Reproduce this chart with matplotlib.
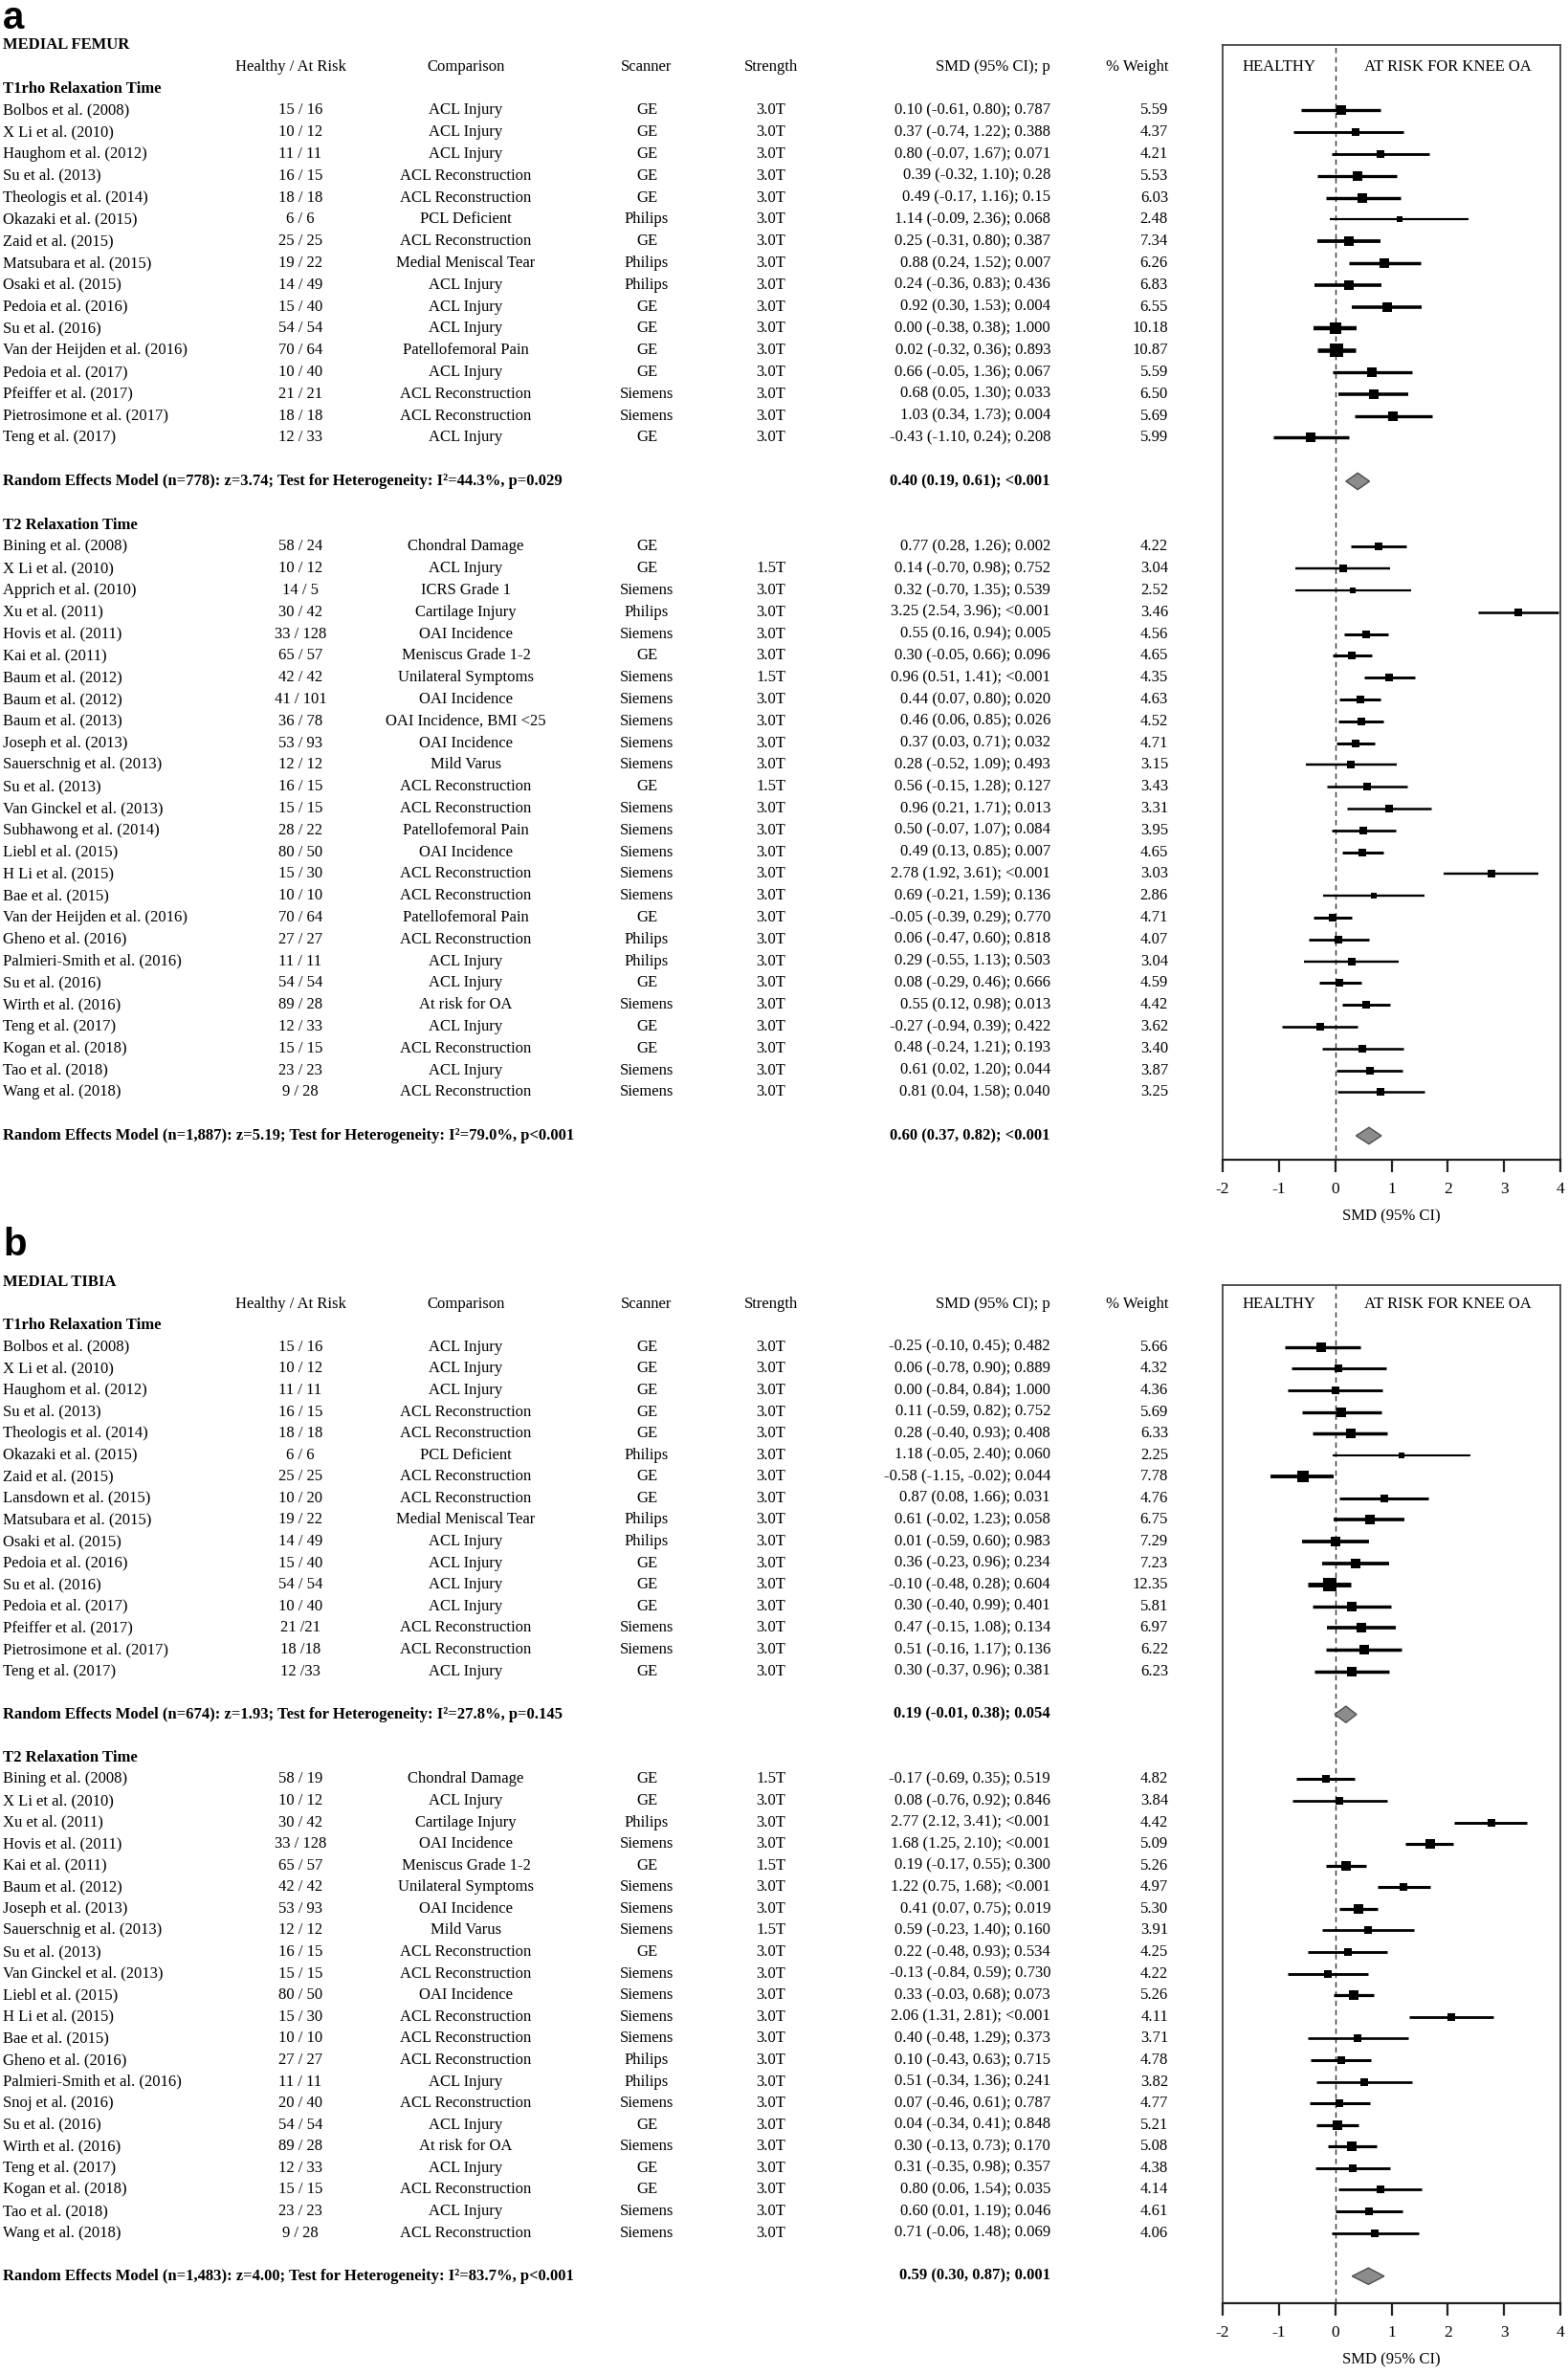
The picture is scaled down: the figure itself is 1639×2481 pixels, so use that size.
import numpy as np
import matplotlib
matplotlib.use('Agg')
import matplotlib.pyplot as plt
from matplotlib import transforms
from matplotlib.patches import Polygon

plt.rcParams['font.family'] = ['Liberation Serif', 'DejaVu Serif']
plt.rcParams['axes.unicode_minus'] = False

W, H = 1639, 2481

# ---------------- a) medial femur, T1rho ----------------
fem_t1_study = ['Bolbos et al. (2008)', 'X Li et al. (2010)', 'Haughom et al. (2012)', 'Su et al. (2013)',
                'Theologis et al. (2014)', 'Okazaki et al. (2015)', 'Zaid et al. (2015)', 'Matsubara et al. (2015)',
                'Osaki et al. (2015)', 'Pedoia et al. (2016)', 'Su et al. (2016)', 'Van der Heijden et al. (2016)',
                'Pedoia et al. (2017)', 'Pfeiffer et al. (2017)', 'Pietrosimone et al. (2017)', 'Teng et al. (2017)']
fem_t1_n = ['15 / 16', '10 / 12', '11 / 11', '16 / 15', '18 / 18', '6 / 6', '25 / 25', '19 / 22',
            '14 / 49', '15 / 40', '54 / 54', '70 / 64', '10 / 40', '21 / 21', '18 / 18', '12 / 33']
fem_t1_comp = ['ACL Injury', 'ACL Injury', 'ACL Injury', 'ACL Reconstruction', 'ACL Reconstruction', 'PCL Deficient',
               'ACL Reconstruction', 'Medial Meniscal Tear', 'ACL Injury', 'ACL Injury', 'ACL Injury',
               'Patellofemoral Pain', 'ACL Injury', 'ACL Reconstruction', 'ACL Reconstruction', 'ACL Injury']
fem_t1_scan = ['GE', 'GE', 'GE', 'GE', 'GE', 'Philips', 'GE', 'Philips', 'Philips', 'GE', 'GE', 'GE', 'GE',
               'Siemens', 'Siemens', 'GE']
fem_t1_tesla = ['3.0T'] * 16
fem_t1_smd = [0.10, 0.37, 0.80, 0.39, 0.49, 1.14, 0.25, 0.88, 0.24, 0.92, 0.00, 0.02, 0.66, 0.68, 1.03, -0.43]
fem_t1_lo = [-0.61, -0.74, -0.07, -0.32, -0.17, -0.09, -0.31, 0.24, -0.36, 0.30, -0.38, -0.32, -0.05, 0.05, 0.34, -1.10]
fem_t1_hi = [0.80, 1.22, 1.67, 1.10, 1.16, 2.36, 0.80, 1.52, 0.83, 1.53, 0.38, 0.36, 1.36, 1.30, 1.73, 0.24]
fem_t1_p = ['0.787', '0.388', '0.071', '0.28', '0.15', '0.068', '0.387', '0.007', '0.436', '0.004', '1.000',
            '0.893', '0.067', '0.033', '0.004', '0.208']
fem_t1_wt = [5.59, 4.37, 4.21, 5.53, 6.03, 2.48, 7.34, 6.26, 6.83, 6.55, 10.18, 10.87, 5.59, 6.50, 5.69, 5.99]
fem_t1_re = 'Random Effects Model (n=778): z=3.74; Test for Heterogeneity: I\u00b2=44.3%, p=0.029'
fem_t1_pool = [0.40, 0.19, 0.61]
fem_t1_pool_p = '<0.001'

# ---------------- a) medial femur, T2 ----------------
fem_t2_study = ['Bining et al. (2008)', 'X Li et al. (2010)', 'Apprich et al. (2010)', 'Xu et al. (2011)',
                'Hovis et al. (2011)', 'Kai et al. (2011)', 'Baum et al. (2012)', 'Baum et al. (2012)',
                'Baum et al. (2013)', 'Joseph et al. (2013)', 'Sauerschnig et al. (2013)', 'Su et al. (2013)',
                'Van Ginckel et al. (2013)', 'Subhawong et al. (2014)', 'Liebl et al. (2015)', 'H Li et al. (2015)',
                'Bae et al. (2015)', 'Van der Heijden et al. (2016)', 'Gheno et al. (2016)',
                'Palmieri-Smith et al. (2016)', 'Su et al. (2016)', 'Wirth et al. (2016)', 'Teng et al. (2017)',
                'Kogan et al. (2018)', 'Tao et al. (2018)', 'Wang et al. (2018)']
fem_t2_n = ['58 / 24', '10 / 12', '14 / 5', '30 / 42', '33 / 128', '65 / 57', '42 / 42', '41 / 101', '36 / 78',
            '53 / 93', '12 / 12', '16 / 15', '15 / 15', '28 / 22', '80 / 50', '15 / 30', '10 / 10', '70 / 64',
            '27 / 27', '11 / 11', '54 / 54', '89 / 28', '12 / 33', '15 / 15', '23 / 23', '9 / 28']
fem_t2_comp = ['Chondral Damage', 'ACL Injury', 'ICRS Grade 1', 'Cartilage Injury', 'OAI Incidence',
               'Meniscus Grade 1-2', 'Unilateral Symptoms', 'OAI Incidence', 'OAI Incidence, BMI <25',
               'OAI Incidence', 'Mild Varus', 'ACL Reconstruction', 'ACL Reconstruction', 'Patellofemoral Pain',
               'OAI Incidence', 'ACL Reconstruction', 'ACL Reconstruction', 'Patellofemoral Pain',
               'ACL Reconstruction', 'ACL Injury', 'ACL Injury', 'At risk for OA', 'ACL Injury',
               'ACL Reconstruction', 'ACL Injury', 'ACL Reconstruction']
fem_t2_scan = ['GE', 'GE', 'Siemens', 'Philips', 'Siemens', 'GE', 'Siemens', 'Siemens', 'Siemens', 'Siemens',
               'Siemens', 'GE', 'Siemens', 'Siemens', 'Siemens', 'Siemens', 'Siemens', 'GE', 'Philips', 'Philips',
               'GE', 'Siemens', 'GE', 'GE', 'Siemens', 'Siemens']
fem_t2_tesla = ['', '1.5T', '3.0T', '3.0T', '3.0T', '3.0T', '1.5T', '3.0T', '3.0T', '3.0T', '3.0T', '1.5T', '3.0T',
                '3.0T', '3.0T', '3.0T', '3.0T', '3.0T', '3.0T', '3.0T', '3.0T', '3.0T', '3.0T', '3.0T', '3.0T', '3.0T']
fem_t2_smd = [0.77, 0.14, 0.32, 3.25, 0.55, 0.30, 0.96, 0.44, 0.46, 0.37, 0.28, 0.56, 0.96, 0.50, 0.49, 2.78,
              0.69, -0.05, 0.06, 0.29, 0.08, 0.55, -0.27, 0.48, 0.61, 0.81]
fem_t2_lo = [0.28, -0.70, -0.70, 2.54, 0.16, -0.05, 0.51, 0.07, 0.06, 0.03, -0.52, -0.15, 0.21, -0.07, 0.13, 1.92,
             -0.21, -0.39, -0.47, -0.55, -0.29, 0.12, -0.94, -0.24, 0.02, 0.04]
fem_t2_hi = [1.26, 0.98, 1.35, 3.96, 0.94, 0.66, 1.41, 0.80, 0.85, 0.71, 1.09, 1.28, 1.71, 1.07, 0.85, 3.61,
             1.59, 0.29, 0.60, 1.13, 0.46, 0.98, 0.39, 1.21, 1.20, 1.58]
fem_t2_p = ['0.002', '0.752', '0.539', '<0.001', '0.005', '0.096', '<0.001', '0.020', '0.026', '0.032', '0.493',
            '0.127', '0.013', '0.084', '0.007', '<0.001', '0.136', '0.770', '0.818', '0.503', '0.666', '0.013',
            '0.422', '0.193', '0.044', '0.040']
fem_t2_wt = [4.22, 3.04, 2.52, 3.46, 4.56, 4.65, 4.35, 4.63, 4.52, 4.71, 3.15, 3.43, 3.31, 3.95, 4.65, 3.03,
             2.86, 4.71, 4.07, 3.04, 4.59, 4.42, 3.62, 3.40, 3.87, 3.25]
fem_t2_re = 'Random Effects Model (n=1,887): z=5.19; Test for Heterogeneity: I\u00b2=79.0%, p<0.001'
fem_t2_pool = [0.60, 0.37, 0.82]
fem_t2_pool_p = '<0.001'

# ---------------- b) medial tibia, T1rho ----------------
tib_t1_study = ['Bolbos et al. (2008)', 'X Li et al. (2010)', 'Haughom et al. (2012)', 'Su et al. (2013)',
                'Theologis et al. (2014)', 'Okazaki et al. (2015)', 'Zaid et al. (2015)', 'Lansdown et al. (2015)',
                'Matsubara et al. (2015)', 'Osaki et al. (2015)', 'Pedoia et al. (2016)', 'Su et al. (2016)',
                'Pedoia et al. (2017)', 'Pfeiffer et al. (2017)', 'Pietrosimone et al. (2017)', 'Teng et al. (2017)']
tib_t1_n = ['15 / 16', '10 / 12', '11 / 11', '16 / 15', '18 / 18', '6 / 6', '25 / 25', '10 / 20', '19 / 22',
            '14 / 49', '15 / 40', '54 / 54', '10 / 40', '21 /21', '18 /18', '12 /33']
tib_t1_comp = ['ACL Injury', 'ACL Injury', 'ACL Injury', 'ACL Reconstruction', 'ACL Reconstruction', 'PCL Deficient',
               'ACL Reconstruction', 'ACL Reconstruction', 'Medial Meniscal Tear', 'ACL Injury', 'ACL Injury',
               'ACL Injury', 'ACL Injury', 'ACL Reconstruction', 'ACL Reconstruction', 'ACL Injury']
tib_t1_scan = ['GE', 'GE', 'GE', 'GE', 'GE', 'Philips', 'GE', 'GE', 'Philips', 'Philips', 'GE', 'GE', 'GE',
               'Siemens', 'Siemens', 'GE']
tib_t1_tesla = ['3.0T'] * 16
tib_t1_smd = [-0.25, 0.06, 0.00, 0.11, 0.28, 1.18, -0.58, 0.87, 0.61, 0.01, 0.36, -0.10, 0.30, 0.47, 0.51, 0.30]
tib_t1_lo = [-0.10, -0.78, -0.84, -0.59, -0.40, -0.05, -1.15, 0.08, -0.02, -0.59, -0.23, -0.48, -0.40, -0.15,
             -0.16, -0.37]
tib_t1_hi = [0.45, 0.90, 0.84, 0.82, 0.93, 2.40, -0.02, 1.66, 1.23, 0.60, 0.96, 0.28, 0.99, 1.08, 1.17, 0.96]
# the drawn whisker of Bolbos starts near -0.9 (table prints -0.10)
tib_t1_lo_drawn = [-0.90] + tib_t1_lo[1:]
tib_t1_p = ['0.482', '0.889', '1.000', '0.752', '0.408', '0.060', '0.044', '0.031', '0.058', '0.983', '0.234',
            '0.604', '0.401', '0.134', '0.136', '0.381']
tib_t1_wt = [5.66, 4.32, 4.36, 5.69, 6.33, 2.25, 7.78, 4.76, 6.75, 7.29, 7.23, 12.35, 5.81, 6.97, 6.22, 6.23]
tib_t1_re = 'Random Effects Model (n=674): z=1.93; Test for Heterogeneity: I\u00b2=27.8%, p=0.145'
tib_t1_pool = [0.19, -0.01, 0.38]
tib_t1_pool_p = '0.054'

# ---------------- b) medial tibia, T2 ----------------
tib_t2_study = ['Bining et al. (2008)', 'X Li et al. (2010)', 'Xu et al. (2011)', 'Hovis et al. (2011)',
                'Kai et al. (2011)', 'Baum et al. (2012)', 'Joseph et al. (2013)', 'Sauerschnig et al. (2013)',
                'Su et al. (2013)', 'Van Ginckel et al. (2013)', 'Liebl et al. (2015)', 'H Li et al. (2015)',
                'Bae et al. (2015)', 'Gheno et al. (2016)', 'Palmieri-Smith et al. (2016)', 'Snoj et al. (2016)',
                'Su et al. (2016)', 'Wirth et al. (2016)', 'Teng et al. (2017)', 'Kogan et al. (2018)',
                'Tao et al. (2018)', 'Wang et al. (2018)']
tib_t2_n = ['58 / 19', '10 / 12', '30 / 42', '33 / 128', '65 / 57', '42 / 42', '53 / 93', '12 / 12', '16 / 15',
            '15 / 15', '80 / 50', '15 / 30', '10 / 10', '27 / 27', '11 / 11', '20 / 40', '54 / 54', '89 / 28',
            '12 / 33', '15 / 15', '23 / 23', '9 / 28']
tib_t2_comp = ['Chondral Damage', 'ACL Injury', 'Cartilage Injury', 'OAI Incidence', 'Meniscus Grade 1-2',
               'Unilateral Symptoms', 'OAI Incidence', 'Mild Varus', 'ACL Reconstruction', 'ACL Reconstruction',
               'OAI Incidence', 'ACL Reconstruction', 'ACL Reconstruction', 'ACL Reconstruction', 'ACL Injury',
               'ACL Reconstruction', 'ACL Injury', 'At risk for OA', 'ACL Injury', 'ACL Reconstruction',
               'ACL Injury', 'ACL Reconstruction']
tib_t2_scan = ['GE', 'GE', 'Philips', 'Siemens', 'GE', 'Siemens', 'Siemens', 'Siemens', 'GE', 'Siemens',
               'Siemens', 'Siemens', 'Siemens', 'Philips', 'Philips', 'Siemens', 'GE', 'Siemens', 'GE', 'GE',
               'Siemens', 'Siemens']
tib_t2_tesla = ['1.5T', '3.0T', '3.0T', '3.0T', '1.5T', '3.0T', '3.0T', '1.5T', '3.0T', '3.0T', '3.0T', '3.0T',
                '3.0T', '3.0T', '3.0T', '3.0T', '3.0T', '3.0T', '3.0T', '3.0T', '3.0T', '3.0T']
tib_t2_smd = [-0.17, 0.08, 2.77, 1.68, 0.19, 1.22, 0.41, 0.59, 0.22, -0.13, 0.33, 2.06, 0.40, 0.10, 0.51, 0.07,
              0.04, 0.30, 0.31, 0.80, 0.60, 0.71]
tib_t2_lo = [-0.69, -0.76, 2.12, 1.25, -0.17, 0.75, 0.07, -0.23, -0.48, -0.84, -0.03, 1.31, -0.48, -0.43, -0.34,
             -0.46, -0.34, -0.13, -0.35, 0.06, 0.01, -0.06]
tib_t2_hi = [0.35, 0.92, 3.41, 2.10, 0.55, 1.68, 0.75, 1.40, 0.93, 0.59, 0.68, 2.81, 1.29, 0.63, 1.36, 0.61,
             0.41, 0.73, 0.98, 1.54, 1.19, 1.48]
tib_t2_p = ['0.519', '0.846', '<0.001', '<0.001', '0.300', '<0.001', '0.019', '0.160', '0.534', '0.730', '0.073',
            '<0.001', '0.373', '0.715', '0.241', '0.787', '0.848', '0.170', '0.357', '0.035', '0.046', '0.069']
tib_t2_wt = [4.82, 3.84, 4.42, 5.09, 5.26, 4.97, 5.30, 3.91, 4.25, 4.22, 5.26, 4.11, 3.71, 4.78, 3.82, 4.77,
             5.21, 5.08, 4.38, 4.14, 4.61, 4.06]
tib_t2_re = 'Random Effects Model (n=1,483): z=4.00; Test for Heterogeneity: I\u00b2=83.7%, p<0.001'
tib_t2_pool = [0.59, 0.30, 0.87]
tib_t2_pool_p = '0.001'

header = ['Healthy / At Risk', 'Comparison', 'Scanner', 'Strength', 'SMD (95% CI); p', '% Weight']

# column positions in pixels
X_STUDY, X_N, X_COMP, X_SCAN, X_TESLA, X_SMD, X_WT = 3, 314, 487, 676, 806, 1098, 1221
X_N_HEAD = 304
FS = 12

fig = plt.figure(figsize=(W / 100, H / 100), dpi=100)


def txt(tr, xpx, row, s, ha='center', bold=False):
    fig.text(xpx / W, row, s, transform=tr, ha=ha, va='center', fontsize=FS,
             fontweight='bold' if bold else 'normal')


def section(ax, tr, row0, title, study, n, comp, scan, tesla, smd, lo, hi, p, wt, re_txt, pool, pool_p,
            lo_drawn=None):
    if lo_drawn is None:
        lo_drawn = lo
    txt(tr, X_STUDY, row0 - 1, title, ha='left', bold=True)
    for i in range(len(study)):
        r = row0 + i
        txt(tr, X_STUDY, r, study[i], ha='left')
        txt(tr, X_N, r, n[i])
        txt(tr, X_COMP, r, comp[i])
        txt(tr, X_SCAN, r, scan[i])
        txt(tr, X_TESLA, r, tesla[i])
        txt(tr, X_SMD, r, '%.2f (%.2f, %.2f); %s' % (smd[i], lo[i], hi[i], p[i]), ha='right')
        txt(tr, X_WT, r, '%.2f' % wt[i], ha='right')
        ax.plot([lo_drawn[i], hi[i]], [r, r], color='black', lw=1.0 * np.sqrt(wt[i]),
                solid_capstyle='butt', zorder=3)
        ax.plot(smd[i], r, marker='s', ms=2.9 * np.sqrt(wt[i]), color='black', mew=0, zorder=4)
    r = row0 + len(study) + 1
    txt(tr, X_STUDY, r, re_txt, ha='left', bold=True)
    txt(tr, X_SMD, r, '%.2f (%.2f, %.2f); %s' % (pool[0], pool[1], pool[2], pool_p), ha='right', bold=True)
    ax.add_patch(Polygon([(pool[1], r), (pool[0], r - 0.38), (pool[2], r), (pool[0], r + 0.38)],
                         closed=True, fc='#8c8c8c', ec='#4d4d4d', lw=1.0, zorder=4))


def panel(top_px, bot_px, ytop, ybot, letter, letter_base, title, secs):
    ax = fig.add_axes([1278 / W, 1 - bot_px / H, (1631 - 1278) / W, (bot_px - top_px) / H])
    ax.set_xlim(-2, 4)
    ax.set_ylim(ybot, ytop)
    ax.set_yticks([])
    ax.set_xticks(range(-2, 5))
    ax.tick_params(axis='x', direction='out', length=9.5, width=1.6, pad=7, labelsize=12.5, color='#222222')
    for s in ax.spines.values():
        s.set_color('#444444')
        s.set_linewidth(1.3)
    ax.spines['bottom'].set_linewidth(1.6)
    ax.spines['bottom'].set_color('#222222')
    ax.axvline(0, color='#333333', lw=1.0, ls=(0, (4, 3)), zorder=2)
    ax.set_xlabel('SMD (95% CI)', fontsize=12, labelpad=9)
    ax.text(-1, -2, 'HEALTHY', ha='center', va='center', fontsize=FS)
    ax.text(2, -2, 'AT RISK FOR KNEE OA', ha='center', va='center', fontsize=FS)

    tr = transforms.blended_transform_factory(fig.transFigure, ax.transData)
    fig.text(3 / W, 1 - letter_base / H, letter, fontsize=29, fontweight='bold',
             family=['Liberation Sans', 'DejaVu Sans'], ha='left', va='baseline')
    txt(tr, X_STUDY, -3, title, ha='left', bold=True)
    xs = [X_N_HEAD, X_COMP, X_SCAN, X_TESLA, X_SMD, X_WT]
    has = ['center', 'center', 'center', 'center', 'right', 'right']
    for x, h, lab in zip(xs, has, header):
        txt(tr, x, -2, lab, ha=h)
    for sec in secs:
        section(ax, tr, *sec)
    return ax


panel(47, 1212, -3.0, 48.1, 'a', 30, 'MEDIAL FEMUR', [
    (0, 'T1rho Relaxation Time', fem_t1_study, fem_t1_n, fem_t1_comp, fem_t1_scan, fem_t1_tesla,
     fem_t1_smd, fem_t1_lo, fem_t1_hi, fem_t1_p, fem_t1_wt, fem_t1_re, fem_t1_pool, fem_t1_pool_p),
    (20, 'T2 Relaxation Time', fem_t2_study, fem_t2_n, fem_t2_comp, fem_t2_scan, fem_t2_tesla,
     fem_t2_smd, fem_t2_lo, fem_t2_hi, fem_t2_p, fem_t2_wt, fem_t2_re, fem_t2_pool, fem_t2_pool_p),
])

panel(1343, 2407, -2.87, 44.25, 'b', 1312, 'MEDIAL TIBIA', [
    (0, 'T1rho Relaxation Time', tib_t1_study, tib_t1_n, tib_t1_comp, tib_t1_scan, tib_t1_tesla,
     tib_t1_smd, tib_t1_lo, tib_t1_hi, tib_t1_p, tib_t1_wt, tib_t1_re, tib_t1_pool, tib_t1_pool_p,
     tib_t1_lo_drawn),
    (20, 'T2 Relaxation Time', tib_t2_study, tib_t2_n, tib_t2_comp, tib_t2_scan, tib_t2_tesla,
     tib_t2_smd, tib_t2_lo, tib_t2_hi, tib_t2_p, tib_t2_wt, tib_t2_re, tib_t2_pool, tib_t2_pool_p),
])

fig.savefig('out.png', dpi=100)
